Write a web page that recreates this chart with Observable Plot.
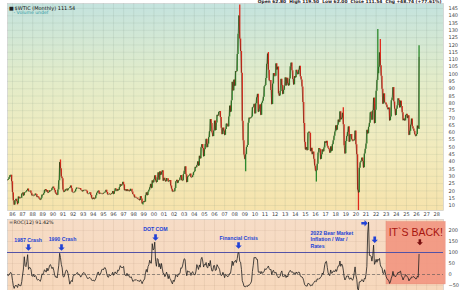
<!DOCTYPE html>
<html><head><meta charset="utf-8">
<script src="https://cdn.jsdelivr.net/npm/d3@7"></script>
<script src="https://cdn.jsdelivr.net/npm/@observablehq/plot@0.6"></script>
<style>
html,body{margin:0;padding:0;background:#fff;}
#chart{width:464px;height:290px;overflow:hidden;position:relative;}
#chart svg{display:block;}
</style></head><body><div id="chart"></div>
<script>
// ---- DATA ----
const firstYear = 1984, firstMonth = 7; // first close = July 1984
// WTI crude, monthly closes
const closes = [
  27.9, 29.2, 29.4, 28.8, 28.1, 26.4,                               // 1984 H2
  25.6, 27.3, 28.2, 27.8, 27.4, 27.1, 27.3, 27.8, 29.1, 30.6, 30.8, 26.3, // 1985
  18.8, 13.3, 10.4, 13.3, 14.3, 12.8, 11.2, 15.9, 14.8, 15.2, 15.0, 17.9, // 1986
  18.6, 16.6, 18.8, 18.7, 19.4, 20.3, 21.3, 19.6, 19.6, 19.9, 18.4, 16.7, // 1987
  17.1, 16.6, 16.7, 17.9, 17.6, 15.7, 16.0, 15.2, 14.3, 13.7, 14.9, 17.2, // 1988
  17.0, 18.1, 20.3, 20.9, 19.5, 20.3, 18.6, 18.9, 20.1, 19.9, 20.3, 21.8, // 1989
  22.6, 21.6, 20.3, 18.5, 17.6, 17.1, 20.7, 26.9, 39.5, 35.2, 29.6, 28.4, // 1990
  20.6, 19.1, 19.7, 20.8, 21.2, 20.1, 21.4, 21.7, 22.2, 23.4, 21.5, 19.1, // 1991
  18.9, 18.7, 19.4, 20.8, 22.0, 22.0, 21.8, 21.5, 21.7, 20.6, 20.3, 19.5, // 1992
  20.3, 20.4, 20.2, 20.4, 19.8, 18.1, 17.9, 18.3, 18.7, 16.9, 15.0, 14.2, // 1993
  15.2, 14.3, 14.6, 16.7, 18.4, 19.4, 20.0, 17.9, 18.4, 18.2, 18.1, 17.8, // 1994
  18.4, 18.5, 19.2, 20.4, 18.9, 17.4, 17.5, 17.8, 17.4, 17.6, 18.2, 19.6, // 1995
  17.7, 19.5, 21.5, 21.2, 19.8, 20.9, 20.4, 22.3, 24.4, 23.4, 24.0, 25.9, // 1996
  24.2, 20.3, 20.8, 19.8, 20.9, 19.8, 20.1, 19.6, 21.2, 21.1, 19.2, 17.6, // 1997
  17.2, 15.4, 15.6, 15.2, 15.2, 14.2, 14.2, 13.4, 16.1, 14.4, 11.2, 12.1, // 1998
  12.8, 12.3, 16.8, 18.7, 16.8, 19.3, 20.5, 22.1, 24.5, 21.8, 26.9, 25.6, // 1999
  27.6, 30.4, 26.9, 25.7, 29.0, 32.5, 27.4, 33.1, 30.8, 32.7, 33.8, 26.8, // 2000
  28.7, 27.4, 26.3, 28.5, 28.4, 26.3, 26.4, 27.2, 23.4, 21.2, 19.4, 19.8, // 2001
  19.5, 21.7, 26.3, 27.3, 25.3, 26.9, 27.0, 28.9, 30.5, 27.2, 26.9, 31.2, // 2002
  33.5, 36.6, 31.0, 25.8, 29.6, 30.2, 30.5, 31.6, 29.2, 29.1, 30.4, 32.5, // 2003
  33.1, 36.2, 35.8, 37.4, 39.9, 37.1, 43.8, 42.1, 49.6, 51.8, 49.1, 43.5, // 2004
  48.2, 51.8, 55.4, 49.7, 52.0, 56.5, 60.6, 68.9, 66.2, 59.8, 57.3, 61.0, // 2005
  67.9, 61.4, 66.6, 71.9, 71.3, 73.9, 74.4, 70.3, 62.9, 58.7, 63.1, 61.1, // 2006
  58.1, 62.0, 65.9, 65.7, 64.0, 70.7, 78.2, 74.0, 81.7, 94.5, 88.7, 96.0, // 2007
  91.8, 101.8, 101.6, 113.5, 127.4, 140.0, 124.1, 115.5, 100.6, 67.8, 54.4, 44.6, // 2008
  41.7, 44.8, 49.7, 51.1, 66.3, 69.9, 69.5, 70.0, 70.6, 77.0, 77.3, 79.4, // 2009
  72.9, 79.7, 83.8, 86.2, 74.0, 75.6, 79.0, 71.9, 80.0, 81.4, 84.1, 91.4, // 2010
  92.2, 97.0, 106.7, 113.9, 102.7, 95.4, 95.7, 88.8, 79.2, 93.2, 100.4, 98.8, // 2011
  98.5, 107.1, 103.0, 104.9, 86.5, 85.0, 88.1, 96.5, 92.2, 86.2, 88.9, 91.8, // 2012
  97.5, 92.1, 97.2, 93.5, 92.0, 96.6, 105.0, 107.7, 102.3, 96.4, 92.7, 98.4, // 2013
  97.5, 102.6, 101.6, 99.7, 102.7, 105.4, 98.2, 96.0, 91.2, 80.5, 66.2, 53.3, // 2014
  48.2, 49.8, 47.6, 59.6, 60.3, 59.5, 47.1, 49.2, 45.1, 46.6, 41.7, 37.0, // 2015
  33.6, 33.8, 38.3, 45.9, 49.1, 48.3, 41.6, 44.7, 48.2, 46.9, 49.4, 53.7, // 2016
  52.8, 54.0, 50.6, 49.3, 48.3, 46.0, 50.2, 47.2, 51.7, 54.4, 57.4, 60.4, // 2017
  64.7, 61.6, 64.9, 68.6, 67.0, 74.2, 68.8, 69.8, 73.3, 65.3, 50.9, 45.4, // 2018
  53.8, 57.2, 60.1, 63.9, 53.5, 58.5, 58.6, 55.1, 54.1, 54.2, 55.2, 61.1, // 2019
  51.6, 44.8, 20.5, 18.8, 35.5, 39.3, 40.3, 42.6, 40.2, 35.8, 45.3, 48.5, // 2020
  52.2, 61.5, 59.2, 63.6, 66.3, 73.5, 74.0, 68.5, 75.0, 83.6, 66.2, 75.2, // 2021
  88.2, 95.7, 100.3, 104.7, 114.7, 105.8, 98.6, 89.6, 79.5, 86.5, 80.6, 80.3, // 2022
  78.9, 77.1, 75.7, 76.8, 68.1, 70.6, 81.8, 83.6, 90.8, 81.0, 76.0, 71.7, // 2023
  75.9, 78.3, 83.2, 81.9, 77.0, 81.5, 77.9, 73.6, 68.2, 69.3, 68.0, 71.7, // 2024
  72.5, 69.8, 71.5, 58.2, 60.8, 65.1, 69.3, 64.0, 62.4, 60.9, 58.5, 57.4, // 2025
  58.6, 64.5, 62.8, 111.54                                          // 2026
];
// monthly extremes (wicks) beyond the candle body
const wickMonths = ["1986-07","1990-10","1998-12","2008-07","2009-02","2011-05","2016-02","2018-10","2020-04","2022-03","2022-06","2026-04"];
const wickLows   = [10.4, null, 10.35, null, 33.2, null, 26.05, null, -40.3, null, null, 62.0];
const wickHighs  = [null, 41.2, null, 147.3, null, 114.8, null, 76.9, null, 130.5, 123.7, 119.5];

const tickYears = [1986,1987,1988,1989,1990,1991,1992,1993,1994,1995,1996,1997,1998,1999,2000,2001,2002,2003,2004,2005,2006,2007,2008,2009,2010,2011,2012,2013,2014,2015,2016,2017,2018,2019,2020,2021,2022,2023,2024,2025,2026,2027,2028];
const priceTicks = [10,15,20,25,30,35,40,45,50,55,60,65,70,75,80,85,90,95,100,105,110,115,120,125,130,135,140,145];
const rocTicks = [-50,0,50,100,150,200];
const rocPeriod = 12;

// annotations (ROC panel, data coordinates: year, ROC %)
const noteText = ["1987 Crash","1990 Crash","DOT COM","Financial Crisis"];
const noteYear = [1987.55, 1990.95, 2000.15, 2008.4];
const noteRoc  = [156, 160, 205, 164];
const bearText = ["2022 Bear Market","Inflation / War /","Rates"];
const bearYear = 2015.5;
const bearRoc  = [188, 158, 127];
const downArrowYear = [1987.58, 1990.85, 2000.16, 2008.38, 2021.86];
const downArrowRoc  = [123, 123, 168, 132, 158];
const rightArrowYear = [2020.85];
const rightArrowRoc  = [233];
const backText = "IT`S BACK!";
const backYear = 2025.93, backRoc = 192;
const backArrowYear = [2026.33], backArrowRoc = [147];
const backBoxYear = [2023.03, 2028.88], backBoxRoc = [-45, 238];

// ---- BUILD TABLES ----
const wickIndex = new Map(wickMonths.map((k, i) => [k, i]));
const rows = closes.map((c, i) => {
  const m = firstMonth - 1 + i;
  const year = firstYear + Math.floor(m / 12), mon = m % 12;
  const key = `${year}-${String(mon + 1).padStart(2, "0")}`;
  const open = i ? closes[i - 1] : c;
  let low = Math.min(open, c), high = Math.max(open, c);
  if (wickIndex.has(key)) {
    const j = wickIndex.get(key);
    if (wickLows[j] != null) low = wickLows[j];
    if (wickHighs[j] != null) high = wickHighs[j];
  }
  return {t: year + mon / 12, open, close: c, low, high, up: c >= open};
});
const rocRows = rows.slice(rocPeriod).map((d, i) => ({t: d.t, roc: (d.close / closes[i] - 1) * 100}));

const xDomain = [1985.505, 2028.67];
const W = 464;
const green = "#2c8a2c", red = "#e0291b";

// ---- MAIN PRICE PANEL ----
const main = Plot.plot({
  width: W, height: 218,
  marginTop: 3, marginBottom: 8, marginLeft: 7, marginRight: 21,
  style: {background: "#fff", fontFamily: "DejaVu Sans", fontSize: "5px", color: "#444", overflow: "visible"},
  x: {domain: xDomain, ticks: tickYears, tickFormat: d => String(d % 100).padStart(2, "0"), tickSize: 0, tickPadding: 1.5, label: null},
  y: {domain: [6.57, 148.4], axis: "right", ticks: priceTicks, tickSize: 0, tickPadding: 5, label: null},
  marks: [
    Plot.frame({fill: "url(#gMain)", stroke: "#c8c8c8", strokeWidth: 0.6}),
    Plot.ruleX(tickYears, {stroke: "#6f8a7a", strokeOpacity: 0.16, strokeWidth: 0.8}),
    Plot.ruleY(priceTicks, {stroke: "#6f8a7a", strokeOpacity: 0.14, strokeWidth: 0.8}),
    Plot.ruleX(rows, {x: "t", y1: "low", y2: "high", stroke: d => d.up ? green : red, strokeWidth: 1.3, clip: true}),
    Plot.line(rows, {x: "t", y: "close", stroke: "#3a2a18", strokeWidth: 0.55, strokeOpacity: 0.8, clip: true}),
    Plot.text(["■"], {frameAnchor: "top-left", dx: 1.5, dy: 2.5, fontSize: 5, fill: "#222", textAnchor: "start", lineAnchor: "top"}),
    Plot.text(["$WTIC (Monthly) 111.54"], {frameAnchor: "top-left", dx: 7, dy: 2.5, fontSize: 5, fill: "#111", textAnchor: "start", lineAnchor: "top"}),
    Plot.text(["- Volume undef"], {frameAnchor: "top-left", dx: 6, dy: 7.5, fontSize: 4.6, fill: "#2f9aa3", textAnchor: "start", lineAnchor: "top"}),
    Plot.text(["Open 62.80  High 119.50  Low 62.00  Close 111.54  Chg +48.74 (+77.61%)"], {frameAnchor: "top-right", dx: -2, dy: -3.5, fontSize: 4.4, fontWeight: "bold", fill: "#222", textAnchor: "end", lineAnchor: "top"})
  ]
});

// ---- ROC PANEL ----
const downArrow = {draw(ctx, size) {
  const s = Math.sqrt(size) / 2;
  ctx.moveTo(-s * 0.42, -s); ctx.lineTo(s * 0.42, -s); ctx.lineTo(s * 0.42, 0);
  ctx.lineTo(s, 0); ctx.lineTo(0, s); ctx.lineTo(-s, 0); ctx.lineTo(-s * 0.42, 0); ctx.closePath();
}};
const rightArrow = {draw(ctx, size) {
  const s = Math.sqrt(size) / 2;
  ctx.moveTo(-s, -s * 0.42); ctx.lineTo(0, -s * 0.42); ctx.lineTo(0, -s);
  ctx.lineTo(s, 0); ctx.lineTo(0, s); ctx.lineTo(0, s * 0.42); ctx.lineTo(-s, s * 0.42); ctx.closePath();
}};
const blue = "#2242d6";

const roc = Plot.plot({
  width: W, height: 72,
  marginTop: 1, marginBottom: 0, marginLeft: 7, marginRight: 21,
  style: {background: "#fff", fontFamily: "DejaVu Sans", fontSize: "5px", color: "#444"},
  x: {domain: xDomain, axis: null},
  y: {domain: [-72.7, 250], axis: "right", ticks: rocTicks, tickSize: 0, tickPadding: 5, label: null},
  marks: [
    Plot.frame({fill: "url(#gRoc)", stroke: "#c8c8c8", strokeWidth: 0.6}),
    Plot.ruleX(tickYears, {stroke: "#8a6a4a", strokeOpacity: 0.13, strokeWidth: 0.8}),
    Plot.ruleY(rocTicks, {stroke: "#8a6a4a", strokeOpacity: 0.1, strokeWidth: 0.8}),
    Plot.rect([0], {x1: () => backBoxYear[0], x2: () => backBoxYear[1], y1: () => backBoxRoc[0], y2: () => backBoxRoc[1], fill: "#f2957f", fillOpacity: 0.9, stroke: "#e88a74", strokeWidth: 0.5}),
    Plot.ruleY([100], {stroke: "#5353a6", strokeWidth: 1}),
    Plot.ruleY([0], {stroke: "#555", strokeWidth: 0.6, strokeDasharray: "3,2"}),
    Plot.line(rocRows, {x: "t", y: "roc", stroke: "#1e1e1e", strokeWidth: 0.8, clip: true}),
    Plot.text(["ROC(12) 91.42%"], {frameAnchor: "top-left", dx: 6, dy: 1, fontSize: 4.8, fill: "#222", textAnchor: "start", lineAnchor: "top"}),
    Plot.text(["="], {frameAnchor: "top-left", dx: 1.5, dy: 1, fontSize: 4.8, fill: "#555", textAnchor: "start", lineAnchor: "top"}),
    Plot.text(noteText, {x: (d, i) => noteYear[i], y: (d, i) => noteRoc[i], text: d => d, fill: blue, fontWeight: "bold", fontSize: 5.2, fontFamily: "Liberation Sans"}),
    Plot.text(bearText, {x: () => bearYear, y: (d, i) => bearRoc[i], text: d => d, fill: blue, fontWeight: "bold", fontSize: 5.2, fontFamily: "Liberation Sans", textAnchor: "start"}),
    Plot.dot(downArrowYear, {x: d => d, y: (d, i) => downArrowRoc[i], symbol: downArrow, r: 3.6, fill: blue, stroke: "none"}),
    Plot.dot(rightArrowYear, {x: d => d, y: (d, i) => rightArrowRoc[i], symbol: rightArrow, r: 3.6, fill: blue, stroke: "none"}),
    Plot.text([backText], {x: () => backYear, y: () => backRoc, text: d => d, fill: "#a8140e", fontSize: 10.5, fontFamily: "Liberation Sans"}),
    Plot.dot(backArrowYear, {x: d => d, y: (d, i) => backArrowRoc[i], symbol: downArrow, r: 3.4, fill: "#7a1010", stroke: "none"})
  ]
});

function addGradient(svg, id, stops) {
  const defs = d3.select(svg).insert("defs", ":first-child");
  const g = defs.append("linearGradient").attr("id", id).attr("x1", 0).attr("y1", 0).attr("x2", 0).attr("y2", 1);
  stops.forEach(([o, c]) => g.append("stop").attr("offset", o).attr("stop-color", c));
}
addGradient(main, "gMain", [[0, "#c4e3de"], [0.35, "#e2ecca"], [0.7, "#f2ebbd"], [1, "#f6e3ac"]]);
addGradient(roc, "gRoc", [[0, "#f6dcc6"], [1, "#f7d8bc"]]);

const host = document.getElementById("chart");
host.appendChild(main);
host.appendChild(roc);
</script>
</body></html>
